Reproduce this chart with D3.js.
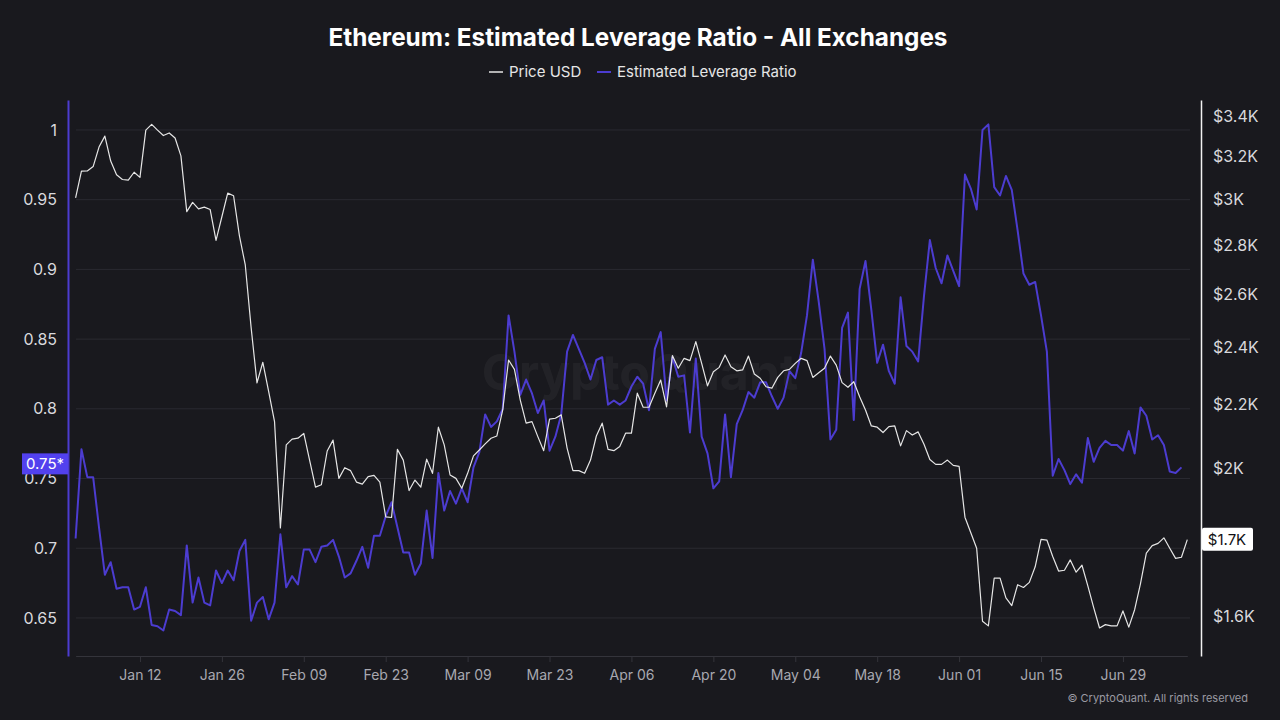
<!DOCTYPE html>
<html>
<head>
<meta charset="utf-8">
<script src="https://cdn.jsdelivr.net/npm/d3@7"></script>
<style>
  body { margin: 0; background: #19191e; }
  svg { display: block; font-family: Inter, "Noto Sans", sans-serif; }
</style>
</head>
<body>
<div id="graph"></div>
<script>
// daily values, first point = Jan 01
var startDate = new Date(2023, 0, 1);

var priceUsd = [
  3007, 3130, 3131, 3152, 3246, 3300, 3178, 3113, 3091, 3088,
  3125, 3101, 3330, 3359, 3330, 3303, 3316, 3291, 3203, 2945,
  2986, 2957, 2965, 2954, 2820, 2922, 3028, 3016, 2839, 2717,
  2472, 2274, 2346, 2244, 2145, 1827, 2071, 2089, 2092, 2107,
  2023, 1943, 1950, 2052, 2086, 1969, 2001, 1992, 1958, 1952,
  1974, 1978, 1958, 1858, 1856, 2057, 2024, 1933, 1964, 1943,
  2027, 1984, 2127, 2071, 1979, 1969, 1940, 1984, 2037, 2055,
  2074, 2092, 2099, 2183, 2354, 2321, 2216, 2140, 2145, 2097,
  2053, 2153, 2156, 2167, 2061, 1992, 1992, 1984, 2024, 2099,
  2140, 2057, 2053, 2066, 2108, 2108, 2239, 2192, 2192, 2239,
  2284, 2193, 2370, 2325, 2360, 2352, 2420, 2342, 2264, 2313,
  2328, 2372, 2330, 2316, 2319, 2368, 2305, 2290, 2261, 2256,
  2293, 2316, 2321, 2342, 2360, 2352, 2293, 2309, 2325, 2368,
  2336, 2275, 2259, 2278, 2227, 2183, 2131, 2127, 2110, 2129,
  2131, 2068, 2116, 2102, 2112, 2073, 2026, 2011, 2011, 2024,
  2008, 2005, 1857, 1814, 1772, 1587, 1576, 1694, 1694, 1644,
  1625, 1677, 1670, 1683, 1723, 1796, 1794, 1750, 1712, 1714,
  1741, 1709, 1727, 1674, 1620, 1571, 1579, 1576, 1576, 1612,
  1573, 1615, 1680, 1759, 1779, 1785, 1800, 1772, 1745, 1748,
  1795
];

var leverageRatio = [
  0.707, 0.771, 0.751, 0.751, 0.715, 0.681, 0.690, 0.671, 0.672, 0.672,
  0.656, 0.658, 0.672, 0.645, 0.644, 0.641, 0.656, 0.655, 0.652, 0.702,
  0.661, 0.679, 0.661, 0.659, 0.684, 0.675, 0.684, 0.677, 0.698, 0.706,
  0.648, 0.661, 0.665, 0.649, 0.661, 0.710, 0.672, 0.680, 0.674, 0.699,
  0.699, 0.690, 0.701, 0.702, 0.706, 0.694, 0.679, 0.682, 0.691, 0.701,
  0.686, 0.709, 0.709, 0.723, 0.733, 0.715, 0.697, 0.697, 0.681, 0.689,
  0.727, 0.693, 0.754, 0.727, 0.741, 0.732, 0.743, 0.733, 0.758, 0.769,
  0.796, 0.787, 0.791, 0.800, 0.867, 0.841, 0.810, 0.821, 0.811, 0.797,
  0.806, 0.770, 0.780, 0.796, 0.841, 0.853, 0.843, 0.833, 0.821, 0.835,
  0.837, 0.803, 0.806, 0.803, 0.806, 0.816, 0.823, 0.818, 0.799, 0.843,
  0.855, 0.806, 0.837, 0.823, 0.824, 0.783, 0.836, 0.780, 0.768, 0.743,
  0.748, 0.796, 0.751, 0.789, 0.799, 0.812, 0.808, 0.819, 0.819, 0.809,
  0.800, 0.808, 0.827, 0.822, 0.840, 0.867, 0.907, 0.877, 0.843, 0.778,
  0.785, 0.858, 0.869, 0.792, 0.886, 0.906, 0.871, 0.833, 0.846, 0.827,
  0.818, 0.880, 0.845, 0.841, 0.834, 0.881, 0.921, 0.901, 0.890, 0.910,
  0.899, 0.888, 0.968, 0.958, 0.943, 1.000, 1.004, 0.959, 0.953, 0.967,
  0.957, 0.928, 0.897, 0.889, 0.891, 0.867, 0.841, 0.752, 0.764, 0.756,
  0.746, 0.753, 0.747, 0.779, 0.762, 0.772, 0.777, 0.774, 0.774, 0.770,
  0.784, 0.768, 0.801, 0.795, 0.778, 0.781, 0.774, 0.755, 0.754, 0.758
];

var leverageTicks = [0.65, 0.7, 0.75, 0.8, 0.85, 0.9, 0.95, 1];
var priceTicks = [1600, 2000, 2200, 2400, 2600, 2800, 3000, 3200, 3400];
var dateTicks = ["2023-01-12", "2023-01-26", "2023-02-09", "2023-02-23", "2023-03-09",
                 "2023-03-23", "2023-04-06", "2023-04-20", "2023-05-04", "2023-05-18",
                 "2023-06-01", "2023-06-15", "2023-06-29"];

var titleText = "Ethereum: Estimated Leverage Ratio - All Exchanges";
var priceColor = "#e6e6e6";
var leverageColor = "#4c3cd0";

var svgWidth = 1280;
var svgHeight = 720;

// chart area
var plot = {left: 68, right: 1201, top: 100, bottom: 656};

var svg = d3.select("#graph")
  .append("svg")
  .attr("width", svgWidth)
  .attr("height", svgHeight);

svg.append("rect")
  .attr("width", svgWidth)
  .attr("height", svgHeight)
  .attr("fill", "#19191e");

var priceDates = priceUsd.map(function(d, i) { return d3.timeDay.offset(startDate, i); });
var leverageDates = leverageRatio.map(function(d, i) { return d3.timeDay.offset(startDate, i); });
var tickDates = dateTicks.map(function(d) { return d3.timeParse("%Y-%m-%d")(d); });

var xScale = d3.scaleTime()
  .domain([startDate, d3.timeDay.offset(startDate, 190)])
  .range([75.6, 1187.3]);

var yLeft = d3.scaleLinear()
  .domain([0.6227, 1.0215])
  .range([plot.bottom, plot.top]);

var yRight = d3.scaleLog()
  .domain([1506, 3485])
  .range([plot.bottom, plot.top]);

// grid
svg.append("g")
  .selectAll("line")
  .data(leverageTicks)
  .enter()
  .append("line")
  .attr("x1", 76)
  .attr("x2", 1190)
  .attr("y1", function(d) { return yLeft(d); })
  .attr("y2", function(d) { return yLeft(d); })
  .attr("stroke", "#2a2a31")
  .attr("stroke-width", 1);

// watermark
svg.append("text")
  .attr("x", 640)
  .attr("y", 390)
  .attr("text-anchor", "middle")
  .style("font-size", "50px")
  .style("font-weight", 700)
  .attr("fill", "rgba(255,255,255,0.045)")
  .text("CryptoQuant");

// x axis
var xAxis = svg.append("g")
  .attr("transform", `translate(0, ${plot.bottom})`)
  .call(d3.axisBottom(xScale)
    .tickValues(tickDates)
    .tickSize(6)
    .tickSizeOuter(0)
    .tickPadding(8)
    .tickFormat(d3.timeFormat("%b %d")));
xAxis.select(".domain").attr("stroke", "#34343b");
xAxis.selectAll(".tick line").attr("stroke", "#34343b");
xAxis.selectAll("text")
  .attr("fill", "#a8a8b0")
  .style("font-size", "14px")
  .style("font-family", "Inter, sans-serif");

// left axis
var leftAxis = svg.append("g")
  .attr("transform", `translate(${plot.left}, 0)`)
  .call(d3.axisLeft(yLeft)
    .tickValues(leverageTicks)
    .tickSize(0)
    .tickPadding(11)
    .tickFormat(function(d) { return String(+d.toFixed(2)); }));
leftAxis.select(".domain").attr("stroke", leverageColor).attr("stroke-width", 2);
leftAxis.selectAll("text")
  .attr("fill", "#d8d8dc")
  .style("font-size", "16px")
  .style("font-family", "Inter, sans-serif");

// right axis
var rightAxis = svg.append("g")
  .attr("transform", `translate(${plot.right}, 0)`)
  .call(d3.axisRight(yRight)
    .tickValues(priceTicks)
    .tickSize(0)
    .tickPadding(12)
    .tickFormat(function(d) { return "$" + d3.format("~g")(d / 1000) + "K"; }));
rightAxis.select(".domain").attr("stroke", "#f2f2f2").attr("stroke-width", 1.5);
rightAxis.selectAll("text")
  .attr("fill", "#d8d8dc")
  .style("font-size", "16px")
  .style("font-family", "Inter, sans-serif");

// lines
var leverageLine = d3.line()
  .x(function(d, i) { return xScale(leverageDates[i]); })
  .y(function(d) { return yLeft(d); });

var priceLine = d3.line()
  .x(function(d, i) { return xScale(priceDates[i]); })
  .y(function(d) { return yRight(d); });

svg.append("path")
  .datum(leverageRatio)
  .attr("d", leverageLine)
  .attr("fill", "none")
  .attr("stroke", leverageColor)
  .attr("stroke-width", 2)
  .attr("stroke-linejoin", "round");

svg.append("path")
  .datum(priceUsd)
  .attr("d", priceLine)
  .attr("fill", "none")
  .attr("stroke", priceColor)
  .attr("stroke-width", 1.2)
  .attr("stroke-linejoin", "round");

// last value labels (the box sits over the 0.75 tick label, as in the source)
var lastLev = leverageRatio[leverageRatio.length - 1];
var levY = yLeft(lastLev);
svg.append("rect")
  .attr("x", 22).attr("y", levY - 14)
  .attr("width", 46).attr("height", 21)
  .attr("fill", "#5241ee");
svg.append("text")
  .attr("x", 45).attr("y", levY + 2)
  .attr("text-anchor", "middle")
  .attr("fill", "#ffffff")
  .style("font-size", "15px")
  .text((Math.floor(lastLev * 100) / 100) + "*");

var lastPrice = priceUsd[priceUsd.length - 1];
var priceY = yRight(lastPrice);
svg.append("rect")
  .attr("x", 1202).attr("y", priceY - 12)
  .attr("width", 51).attr("height", 23)
  .attr("rx", 2)
  .attr("fill", "#ffffff");
svg.append("text")
  .attr("x", 1227).attr("y", priceY + 5)
  .attr("text-anchor", "middle")
  .attr("fill", "#111114")
  .style("font-size", "15px")
  .text("$" + (Math.floor(lastPrice / 100) / 10) + "K");

// title
svg.append("text")
  .attr("x", 638)
  .attr("y", 46)
  .attr("text-anchor", "middle")
  .attr("fill", "#ffffff")
  .style("font-size", "24.3px")
  .style("font-weight", 700)
  .text(titleText);

// legend
var legend = svg.append("g");
legend.append("line")
  .attr("x1", 489).attr("x2", 503).attr("y1", 72).attr("y2", 72)
  .attr("stroke", priceColor).attr("stroke-width", 1.5);
legend.append("text")
  .attr("x", 509).attr("y", 77)
  .attr("fill", "#e6e6e6")
  .style("font-size", "15px")
  .text("Price USD");
legend.append("line")
  .attr("x1", 597).attr("x2", 611).attr("y1", 72).attr("y2", 72)
  .attr("stroke", leverageColor).attr("stroke-width", 2);
legend.append("text")
  .attr("x", 617).attr("y", 77)
  .attr("fill", "#e6e6e6")
  .style("font-size", "15px")
  .text("Estimated Leverage Ratio");

// footer
svg.append("text")
  .attr("x", 1248)
  .attr("y", 702)
  .attr("text-anchor", "end")
  .attr("fill", "#9a9aa2")
  .style("font-size", "11px")
  .text("© CryptoQuant. All rights reserved");
</script>
</body>
</html>
